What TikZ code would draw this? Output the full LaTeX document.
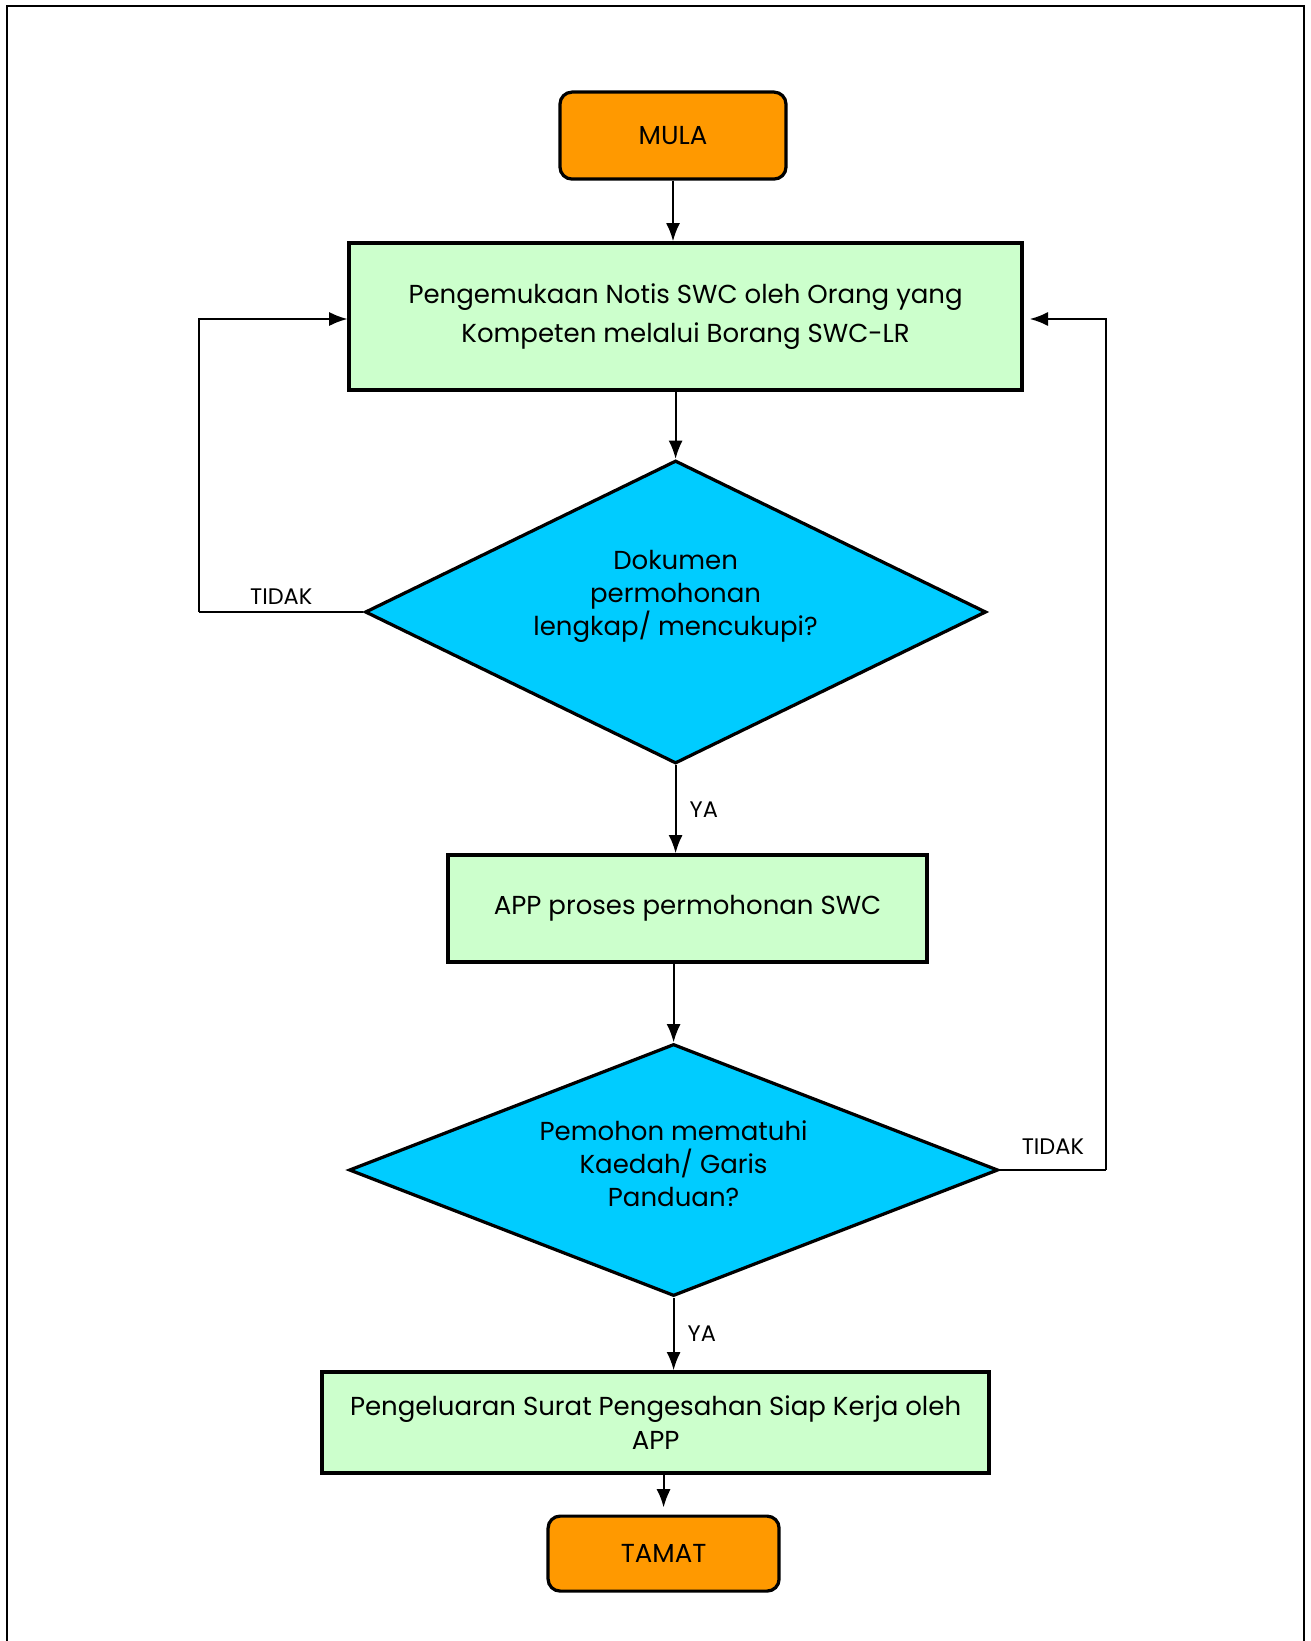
\documentclass[tikz,border=0pt]{standalone}
\usepackage{fontspec}
\setmainfont{Poppins}
\usetikzlibrary{shapes.geometric, arrows.meta}
\definecolor{termorange}{HTML}{FF9900}
\definecolor{procgreen}{HTML}{CCFFCC}
\definecolor{askcyan}{HTML}{00CCFF}

\begin{document}
\begin{tikzpicture}[
	term/.style={draw, line width=2.3pt, rectangle, rounded corners=0.3cm, fill=termorange, inner sep=0pt, font=\fontsize{18.5}{24}\selectfont},
	proc/.style={draw, line width=2.3pt, rectangle, fill=procgreen, align=center, inner sep=0pt, font=\fontsize{18.5}{24}\selectfont},
	ask/.style={draw, line width=2.3pt, diamond, fill=askcyan, align=center, inner sep=0pt, font=\fontsize{18.5}{23.5}\selectfont},
	flow/.style={line width=1.4pt, -{Latex[length=13pt, width=10pt]}},
	back/.style={line width=1.4pt},
	answer/.style={font=\fontsize{16}{20}\selectfont}
	]
				\useasboundingbox (0, 0) rectangle (32.775, -41.025);
				\draw[line width=1.4pt] (0.175, -41.3) -- (0.175, -0.15) -- (32.59, -0.15) -- (32.59, -41.3);
				\node[term, minimum width=5.65cm, minimum height=2.175cm] (MULA)at(16.825, -3.39) {MULA};
				\node[proc, minimum width=16.825cm, minimum height=3.675cm, font=\fontsize{18.5}{27.5}\selectfont] (notis)at(17.14, -7.91) {Pengemukaan Notis SWC oleh Orang yang\\Kompeten melalui Borang SWC-LR};
				\node[ask, aspect=2.05, minimum width=15.525cm, minimum height=7.575cm, text depth=27pt] (lengkap)at(16.89, -15.3) {Dokumen\\permohonan\\lengkap/ mencukupi?};
				\node[proc, minimum width=11.975cm, minimum height=2.675cm] (proses)at(17.19, -22.71) {APP proses permohonan SWC};
				\node[ask, aspect=2.58, minimum width=16.225cm, minimum height=6.3cm, text depth=9pt] (patuh)at(16.84, -29.25) {Pemohon mematuhi\\Kaedah/ Garis\\Panduan?};
				\node[proc, minimum width=16.675cm, minimum height=2.525cm] (surat)at(16.39, -35.56) {Pengeluaran Surat Pengesahan Siap Kerja oleh\\APP};
				\node[term, minimum width=5.775cm, minimum height=1.875cm] (TAMAT)at(16.59, -38.84) {TAMAT};
				\coordinate (kiri)at(4.975, -7.975);
				\coordinate (kanan)at(27.65, -7.975);
				\draw[flow] (MULA.south) -- (MULA.south |- notis.north);
				\draw[flow] (notis.south -| lengkap.north) -- (lengkap.north);
				\draw[flow] (lengkap.south) -- (lengkap.south |- proses.north) node[midway, right, answer, xshift=6pt] {YA};
				\draw[flow] (proses.south -| patuh.north) -- (patuh.north);
				\draw[flow] (patuh.south) -- (patuh.south |- surat.north) node[midway, right, answer, xshift=6pt] {YA};
				\draw[flow, shorten >=0.175cm] (surat.south -| TAMAT.north) -- (TAMAT.north);
				\draw[back] (lengkap.west) -- (lengkap.west -| kiri) node[midway, above, answer, yshift=1pt] {TIDAK};
				\draw[flow] (lengkap.west -| kiri) -- (kiri) -- (kiri -| notis.west);
				\draw[back] (patuh.east) -- (patuh.east -| kanan) node[midway, above, answer, yshift=7pt] {TIDAK};
				\draw[flow] (patuh.east -| kanan) -- (kanan) -- ([xshift=0.15cm]kanan -| notis.east);
			\end{tikzpicture}
\end{document}
